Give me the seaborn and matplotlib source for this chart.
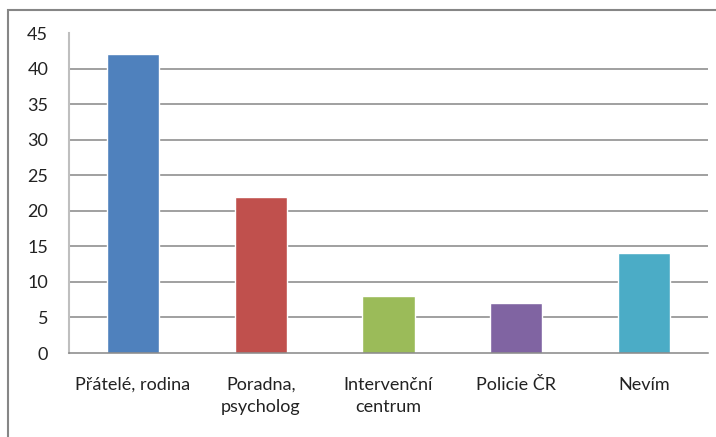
import matplotlib
matplotlib.use("Agg")
import matplotlib.pyplot as plt
import seaborn as sns
import pandas as pd
from matplotlib.patches import Rectangle

categories = ["Přátelé, rodina", "Poradna,\npsycholog", "Intervenční\ncentrum", "Policie ČR", "Nevím"]
values = [42, 22, 8, 7, 14]
colors = ["#4F81BD", "#C0504D", "#9BBB59", "#8064A2", "#4BACC6"]
yticks = [0, 5, 10, 15, 20, 25, 30, 35, 40, 45]

df = pd.DataFrame({"kat": categories, "pocet": values})

sns.set_theme(style="white")
plt.rcParams["font.family"] = ["Lato", "DejaVu Sans"]

fig = plt.figure(figsize=(7.16, 4.37), dpi=100)
ax = fig.add_axes([69 / 716, 84 / 437, 639 / 716, 320 / 437])

sns.barplot(data=df, x="kat", y="pocet", hue="kat", palette=colors,
            width=0.41, saturation=1, legend=False, ax=ax)

ax.set_xlim(-0.5, len(categories) - 0.5)
ax.set_ylim(0, 45)
ax.set_yticks(yticks)
ax.set_yticklabels([str(t) for t in yticks], fontsize=13, color="#222222")
for t in yticks[1:-1]:
    ax.axhline(t, color="#868686", lw=1.1, zorder=0)

ax.set_xticks([i - 0.5 for i in range(len(categories) + 1)], minor=False)
ax.set_xticklabels([])
ax.set_xticks(range(len(categories)), minor=True)
ax.set_xticklabels(categories, minor=True, fontsize=13, color="#222222",
                   linespacing=1.5)
ax.tick_params(axis="x", which="major", length=6, width=1, color="#868686", direction="out")
ax.tick_params(axis="x", which="minor", length=0, pad=17)
ax.tick_params(axis="y", length=6, width=1, color="#868686", direction="out", pad=9)
ax.set_xlabel("")
ax.set_ylabel("")

for s in ["top", "right"]:
    ax.spines[s].set_visible(False)
ax.spines["left"].set_color("#BFBFBF")
ax.spines["left"].set_linewidth(1.5)
ax.spines["bottom"].set_color("#868686")
ax.spines["bottom"].set_linewidth(1.1)

fig.patches.append(Rectangle((8 / 716, -0.1), 1.2, (437 - 10) / 437 + 0.1,
                             transform=fig.transFigure, fill=False,
                             edgecolor="#868686", lw=1.5))

fig.savefig("out.png", dpi=100)
